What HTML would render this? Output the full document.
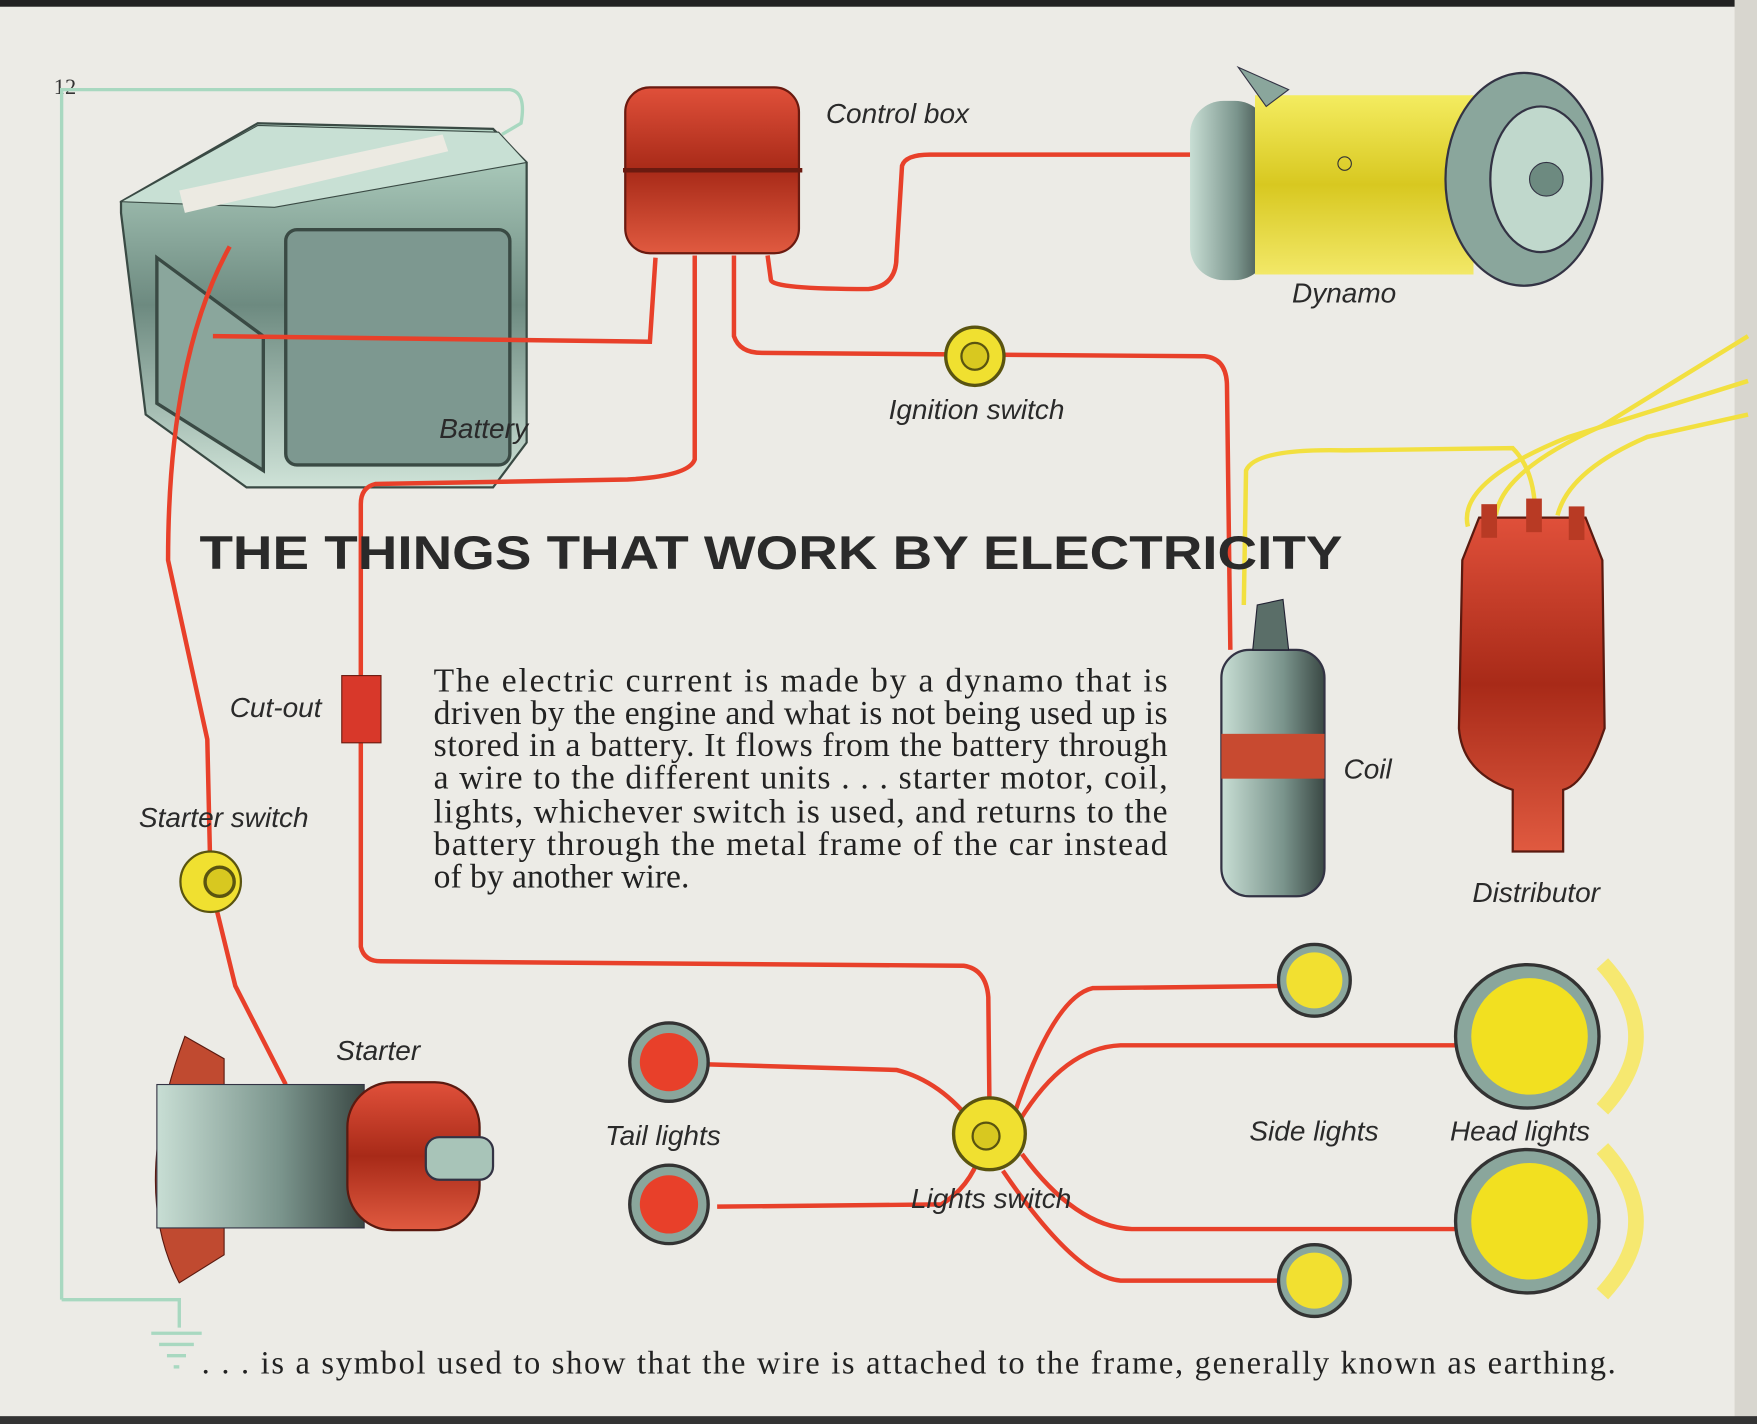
<!DOCTYPE html>
<html><head><meta charset="utf-8"><style>
html,body{margin:0;padding:0;background:#ecebe6;}
svg{display:block}
.lab{font-family:"Liberation Sans",sans-serif;font-style:italic;font-size:25px;fill:#2a2a2a}
.ser{font-family:"Liberation Serif",serif;font-size:30px;fill:#222}
</style></head><body>
<svg width="1757" height="1424" viewBox="0 0 1568 1271" preserveAspectRatio="none" xmlns="http://www.w3.org/2000/svg">
<defs>
<linearGradient id="gb" x1="0" y1="0" x2="0" y2="1"><stop offset="0" stop-color="#b8d8c8"/><stop offset="0.5" stop-color="#6d8a80"/><stop offset="1" stop-color="#cfe3d8"/></linearGradient>
<linearGradient id="gy" x1="0" y1="0" x2="0" y2="1"><stop offset="0" stop-color="#f4ec60"/><stop offset="0.5" stop-color="#d8c820"/><stop offset="1" stop-color="#f2e868"/></linearGradient>
<linearGradient id="gr" x1="0" y1="0" x2="0" y2="1"><stop offset="0" stop-color="#e0503a"/><stop offset="0.5" stop-color="#a82a18"/><stop offset="1" stop-color="#e05a40"/></linearGradient>
<linearGradient id="gc" x1="0" y1="0" x2="1" y2="0"><stop offset="0" stop-color="#c8ded4"/><stop offset="0.6" stop-color="#7a948c"/><stop offset="1" stop-color="#3a4844"/></linearGradient>
</defs>
<rect width="1568" height="1271" fill="#ecebe6"/>
<rect width="1568" height="6" fill="#222"/>
<rect x="1548" width="20" height="1271" fill="#d8d6cf"/>
<rect y="1264" width="1568" height="7" fill="#333"/>
<text x="48" y="84" font-family="Liberation Serif,serif" font-size="20" fill="#333">12</text>
<path d="M55,1160 L55,80 L455,80 Q470,82 465,110 L448,120" fill="none" stroke="#a8d8c0" stroke-width="3"/>
<path d="M55,1160 L160,1160 L160,1185" fill="none" stroke="#a8d8c0" stroke-width="3"/>
<g stroke="#a8d8c0" stroke-width="3"><line x1="135" y1="1190" x2="180" y2="1190"/><line x1="142" y1="1200" x2="173" y2="1200"/><line x1="149" y1="1210" x2="166" y2="1210"/><line x1="155" y1="1220" x2="160" y2="1220"/></g>
<!-- battery -->
<path d="M108,180 L230,110 L440,115 L470,145 L470,395 L440,435 L220,435 L130,370 L108,190 Z" fill="url(#gb)" stroke="#3a4a44" stroke-width="2"/>
<path d="M108,180 L230,112 L445,118 L470,145 L245,185 Z" fill="#c8e0d4" stroke="#3a4a44"/>
<rect x="255" y="205" width="200" height="210" rx="10" fill="#7d9890" stroke="#3a4a44" stroke-width="3"/>
<path d="M140,230 L235,300 L235,420 L140,360 Z" fill="#8aa69c" stroke="#3a4a44" stroke-width="3"/>
<path d="M160,170 L395,120 L400,135 L165,190 Z" fill="#eceae2"/>
<g fill="none" stroke="#e8402a" stroke-width="4">
<path d="M190,300 L580,305 L585,230"/>
<path d="M620,228 L620,410 Q615,425 560,428 L335,432 Q322,435 322,450 L322,845 Q325,858 340,858 L860,862 Q880,865 882,890 L883,985"/>
<path d="M655,228 L655,300 Q660,315 680,315 L1075,318 Q1095,320 1095,345 L1098,580"/>
<path d="M685,228 L688,250 Q690,258 775,258 Q800,255 800,230 L805,148 Q808,138 830,138 L1065,138"/>
<path d="M205,220 Q150,320 150,500 L185,660 L188,790 L210,880 L255,968"/>
<path d="M632,950 L800,955 Q840,965 870,1005"/>
<path d="M640,1077 L840,1075 Q865,1060 875,1030"/>
<path d="M905,995 Q940,890 975,882 L1145,880"/>
<path d="M910,1000 Q950,935 1000,933 L1300,933"/>
<path d="M912,1030 Q960,1095 1010,1097 L1300,1097"/>
<path d="M895,1045 Q960,1140 1000,1143 L1145,1143"/>
</g>
<g fill="none" stroke="#f2e040" stroke-width="4">
<path d="M1110,540 L1112,420 Q1120,400 1200,402 L1350,400 Q1370,420 1370,460"/>
<path d="M1310,470 Q1300,430 1400,390 L1560,340"/>
<path d="M1335,460 Q1340,420 1430,380 L1560,300"/>
<path d="M1390,460 Q1400,420 1470,390 L1560,370"/>
</g>
<rect x="558" y="78" width="155" height="148" rx="22" fill="url(#gr)" stroke="#6a1a10" stroke-width="2"/>
<line x1="556" y1="152" x2="716" y2="152" stroke="#6a1a10" stroke-width="4"/>
<rect x="1062" y="90" width="70" height="160" rx="30" fill="url(#gc)"/>
<rect x="1120" y="85" width="195" height="160" fill="url(#gy)"/>
<path d="M1105,60 L1150,80 L1130,95 Z" fill="#8aa69c" stroke="#334"/>
<ellipse cx="1360" cy="160" rx="70" ry="95" fill="#8aa69c" stroke="#334" stroke-width="2"/>
<ellipse cx="1375" cy="160" rx="45" ry="65" fill="#c0d8cc" stroke="#334" stroke-width="2"/>
<circle cx="1380" cy="160" r="15" fill="#6d8a80" stroke="#334"/>
<circle cx="1200" cy="146" r="6" fill="none" stroke="#333"/>
<circle cx="870" cy="318" r="26" fill="#f0e030" stroke="#5a5410" stroke-width="3"/>
<circle cx="870" cy="318" r="12" fill="#d8c820" stroke="#5a5410" stroke-width="2"/>
<rect x="305" y="603" width="35" height="60" fill="#d8382a" stroke="#6a1a10"/>
<circle cx="188" cy="787" r="27" fill="#f0e030" stroke="#5a5410" stroke-width="2"/>
<circle cx="196" cy="787" r="13" fill="#d8c820" stroke="#5a5410" stroke-width="3"/>
<rect x="1090" y="580" width="92" height="220" rx="25" fill="url(#gc)" stroke="#334" stroke-width="2"/>
<rect x="1090" y="655" width="92" height="40" fill="#c84a30"/>
<path d="M1118,580 L1122,540 L1145,535 L1150,580 Z" fill="#5a6e68" stroke="#223"/>
<path d="M1305,500 L1320,462 L1415,462 L1430,500 L1432,650 Q1415,700 1395,705 L1395,760 L1350,760 L1350,705 Q1305,690 1302,650 Z" fill="url(#gr)" stroke="#5a1a10" stroke-width="2"/>
<rect x="1322" y="450" width="14" height="30" fill="#b83a24"/><rect x="1362" y="445" width="14" height="30" fill="#b83a24"/><rect x="1400" y="452" width="14" height="30" fill="#b83a24"/>
<path d="M165,925 L200,945 L200,1120 L160,1145 Q115,1060 165,925 Z" fill="#c04a30" stroke="#5a1a10"/>
<rect x="140" y="968" width="185" height="128" fill="url(#gc)" stroke="#334"/>
<rect x="310" y="966" width="118" height="132" rx="40" fill="url(#gr)" stroke="#5a1a10" stroke-width="2"/>
<rect x="380" y="1015" width="60" height="38" rx="12" fill="#a8c4b8" stroke="#334" stroke-width="2"/>
<circle cx="597" cy="948" r="35" fill="#8aa69c" stroke="#333" stroke-width="3"/><circle cx="597" cy="948" r="26" fill="#e8402a"/>
<circle cx="597" cy="1075" r="35" fill="#8aa69c" stroke="#333" stroke-width="3"/><circle cx="597" cy="1075" r="26" fill="#e8402a"/>
<circle cx="883" cy="1012" r="32" fill="#f0e030" stroke="#5a5410" stroke-width="3"/>
<circle cx="880" cy="1014" r="12" fill="#d8c820" stroke="#5a5410" stroke-width="2"/>
<circle cx="1173" cy="875" r="32" fill="#8aa69c" stroke="#333" stroke-width="3"/><circle cx="1173" cy="875" r="25" fill="#f2e030"/>
<circle cx="1173" cy="1143" r="32" fill="#8aa69c" stroke="#333" stroke-width="3"/><circle cx="1173" cy="1143" r="25" fill="#f2e030"/>
<path d="M1430,860 Q1490,925 1430,990" fill="none" stroke="#f6e870" stroke-width="14"/>
<path d="M1430,1025 Q1490,1090 1430,1155" fill="none" stroke="#f6e870" stroke-width="14"/>
<circle cx="1363" cy="925" r="64" fill="#8aa69c" stroke="#333" stroke-width="3"/><circle cx="1365" cy="925" r="52" fill="#f2e020"/>
<circle cx="1363" cy="1090" r="64" fill="#8aa69c" stroke="#333" stroke-width="3"/><circle cx="1365" cy="1090" r="52" fill="#f2e020"/>
<text class="lab" x="737" y="110">Control box</text>
<text class="lab" x="1153" y="270">Dynamo</text>
<text class="lab" x="392" y="391">Battery</text>
<text class="lab" x="793" y="374">Ignition switch</text>
<text class="lab" x="205" y="640">Cut-out</text>
<text class="lab" x="124" y="738">Starter switch</text>
<text class="lab" x="1199" y="695">Coil</text>
<text class="lab" x="1314" y="805">Distributor</text>
<text class="lab" x="300" y="946">Starter</text>
<text class="lab" x="540" y="1022">Tail lights</text>
<text class="lab" x="1115" y="1018">Side lights</text>
<text class="lab" x="1294" y="1018">Head lights</text>
<text class="lab" x="813" y="1078">Lights switch</text>
<text x="178" y="508" font-family="Liberation Sans,sans-serif" font-weight="bold" font-size="42" fill="#2a2a2a" textLength="1020" lengthAdjust="spacingAndGlyphs">THE THINGS THAT WORK BY ELECTRICITY</text>
<g class="ser">
<text x="387" y="617" textLength="655" lengthAdjust="spacing">The electric current is made by a dynamo that is</text>
<text x="387" y="646" textLength="655" lengthAdjust="spacing">driven by the engine and what is not being used up is</text>
<text x="387" y="675" textLength="655" lengthAdjust="spacing">stored in a battery. It flows from the battery through</text>
<text x="387" y="704" textLength="655" lengthAdjust="spacing">a wire to the different units . . . starter motor, coil,</text>
<text x="387" y="734" textLength="655" lengthAdjust="spacing">lights, whichever switch is used, and returns to the</text>
<text x="387" y="763" textLength="655" lengthAdjust="spacing">battery through the metal frame of the car instead</text>
<text x="387" y="792">of by another wire.</text>
<text x="180" y="1226" font-size="29" textLength="1262" lengthAdjust="spacing">. . . is a symbol used to show that the wire is attached to the frame, generally known as earthing.</text>
</g>
</svg>
</body></html>
